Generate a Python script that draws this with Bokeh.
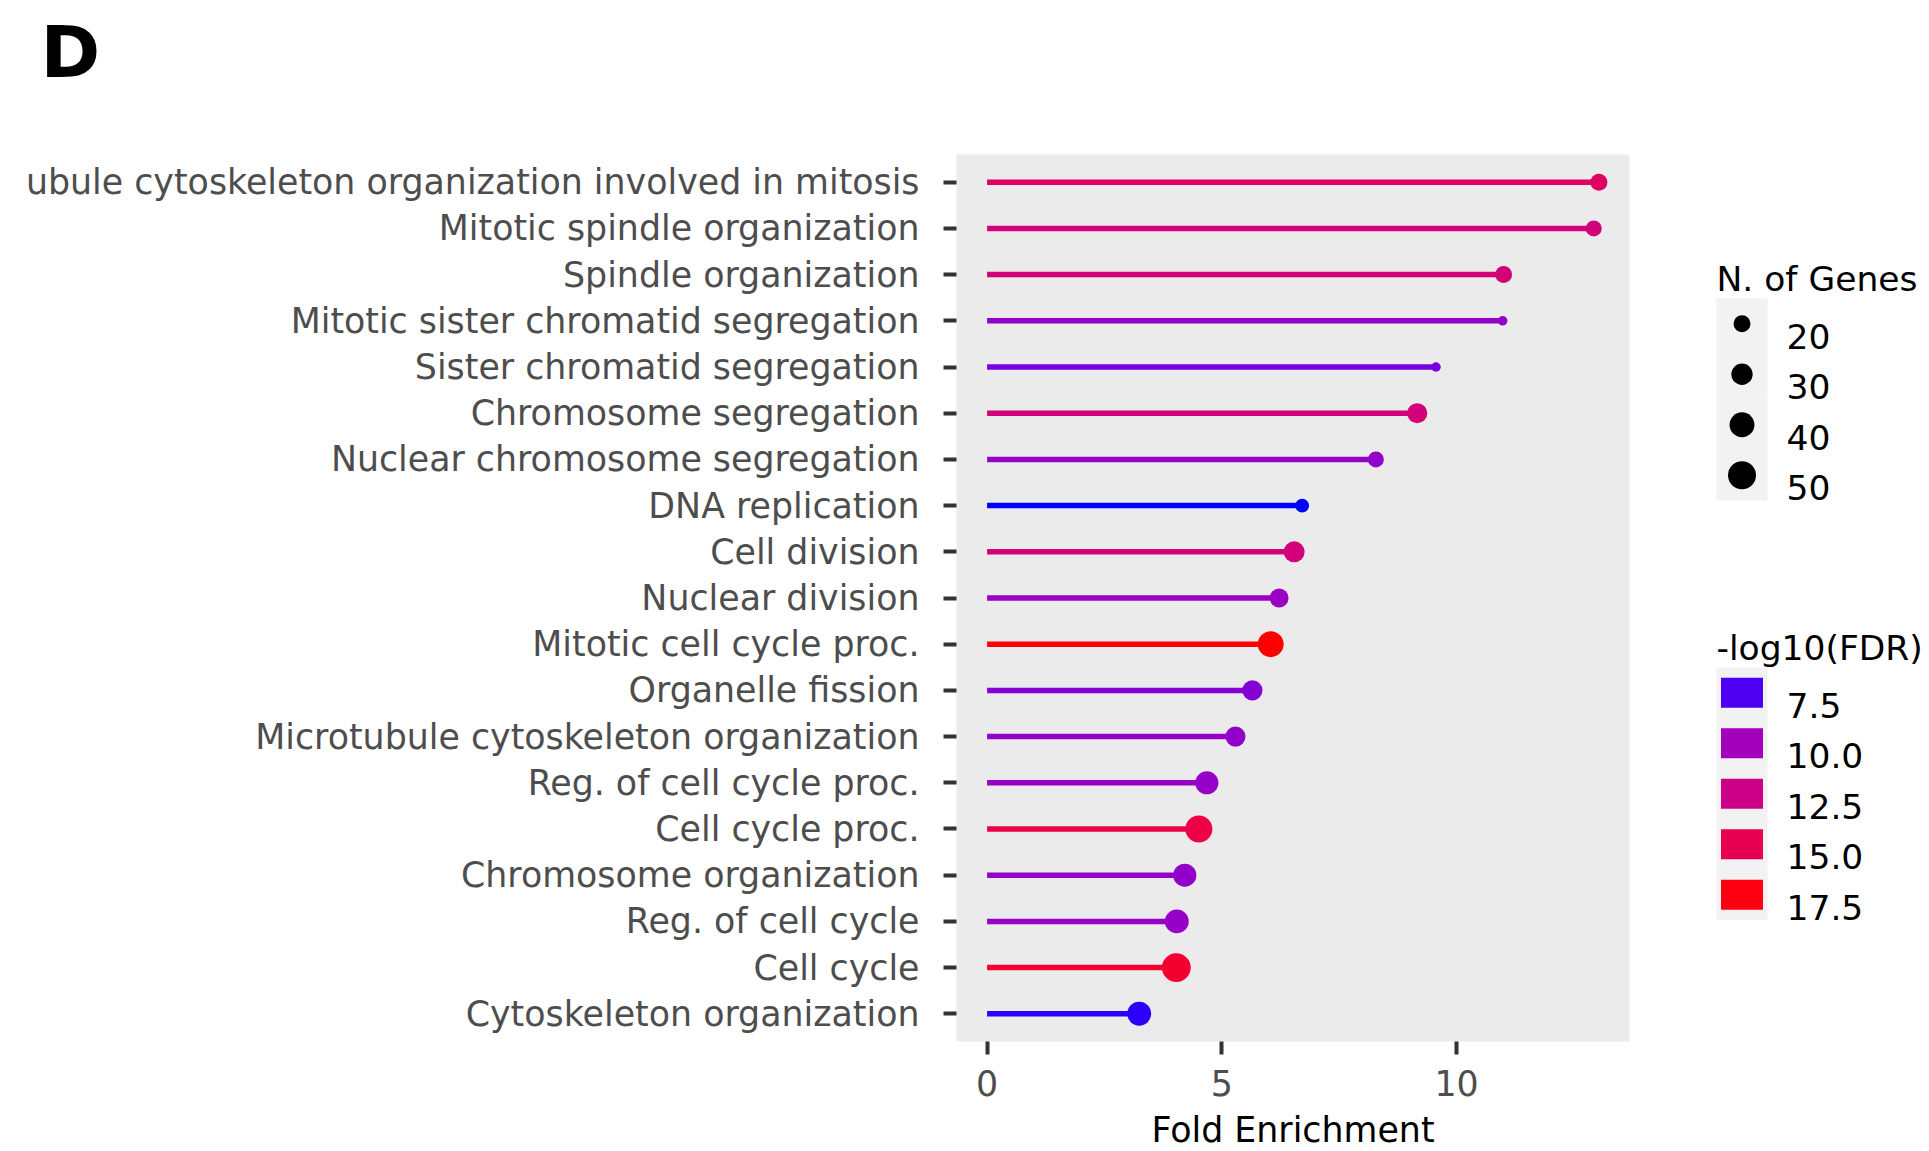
import numpy as np
from bokeh.plotting import figure
from bokeh.models import Range1d, FixedTicker, ColumnDataSource, Spacer
from bokeh.layouts import row, column
from bokeh.core.properties import value
from bokeh.embed import file_html
from bokeh.resources import INLINE

# ---------------- data (top row first) ----------------
terms = [
    "Microtubule cytoskeleton organization involved in mitosis",
    "Mitotic spindle organization",
    "Spindle organization",
    "Mitotic sister chromatid segregation",
    "Sister chromatid segregation",
    "Chromosome segregation",
    "Nuclear chromosome segregation",
    "DNA replication",
    "Cell division",
    "Nuclear division",
    "Mitotic cell cycle proc.",
    "Organelle fission",
    "Microtubule cytoskeleton organization",
    "Reg. of cell cycle proc.",
    "Cell cycle proc.",
    "Chromosome organization",
    "Reg. of cell cycle",
    "Cell cycle",
    "Cytoskeleton organization",
]
fold_enrichment = [13.03, 12.92, 11.0, 10.98, 9.56, 9.16, 8.28, 6.71, 6.54, 6.22,
                   6.04, 5.65, 5.29, 4.68, 4.51, 4.21, 4.04, 4.03, 3.24]
n_genes = [20, 18, 20, 8, 8, 27, 18, 14, 29, 24, 43, 27, 27, 35, 47, 35, 37, 53, 37]
neg_log10_fdr = [14.3, 13.0, 13.2, 9.3, 8.4, 13.1, 9.3, 6.91, 13.1, 9.6,
                 17.83, 8.8, 9.3, 9.5, 15.6, 9.3, 9.5, 16.5, 7.1]

size_breaks = [20, 30, 40, 50]
fdr_breaks = [7.5, 10.0, 12.5, 15.0, 17.5]
x_ticks = [0, 5, 10]
panel_tag = "D"

FONT = "DejaVu Sans"
FS = "34.8px"

# ---------------- colour scale: blue -> red in Lab ----------------
WHITE = (0.95047, 1.0, 1.08883)


def _to_lin(c):
    c = c / 255.0
    return c / 12.92 if c <= 0.04045 else ((c + 0.055) / 1.055) ** 2.4


def _from_lin(c):
    c = max(0.0, min(1.0, c))
    v = 12.92 * c if c <= 0.0031308 else 1.055 * c ** (1 / 2.4) - 0.055
    return int(round(max(0.0, min(1.0, v)) * 255))


def _f(t):
    d = 6 / 29
    return t ** (1 / 3) if t > d ** 3 else t / (3 * d * d) + 4 / 29


def _finv(t):
    d = 6 / 29
    return t ** 3 if t > d else 3 * d * d * (t - 4 / 29)


def hex_to_lab(h):
    r, g, b = [_to_lin(int(h[i:i + 2], 16)) for i in (1, 3, 5)]
    X = 0.4124564 * r + 0.3575761 * g + 0.1804375 * b
    Y = 0.2126729 * r + 0.7151522 * g + 0.0721750 * b
    Z = 0.0193339 * r + 0.1191920 * g + 0.9503041 * b
    fx, fy, fz = _f(X / WHITE[0]), _f(Y / WHITE[1]), _f(Z / WHITE[2])
    return (116 * fy - 16, 500 * (fx - fy), 200 * (fy - fz))


def lab_to_hex(L, a, b):
    fy = (L + 16) / 116
    fx = fy + a / 500
    fz = fy - b / 200
    X, Y, Z = WHITE[0] * _finv(fx), WHITE[1] * _finv(fy), WHITE[2] * _finv(fz)
    r = 3.2404542 * X - 1.5371385 * Y - 0.4985314 * Z
    g = -0.9692660 * X + 1.8760108 * Y + 0.0415560 * Z
    bb = 0.0556434 * X - 0.2040259 * Y + 1.0572252 * Z
    return "#%02x%02x%02x" % tuple(_from_lin(c) for c in (r, g, bb))


LAB_LO = hex_to_lab("#0000ff")
LAB_HI = hex_to_lab("#ff0000")
F_LO, F_HI = min(neg_log10_fdr), max(neg_log10_fdr)


def fdr_color(v):
    t = (v - F_LO) / (F_HI - F_LO)
    t = max(0.0, min(1.0, t))
    return lab_to_hex(*[lo + t * (hi - lo) for lo, hi in zip(LAB_LO, LAB_HI)])


def dot_size(n):
    return float(np.sqrt(max(289 + 16.5 * (n - 20), 49)))


# ---------------- geometry (page pixels) ----------------
FRAME_LEFT, FRAME_TOP, FRAME_W, FRAME_H = 956, 154, 673, 887
BORDER_LEFT = 1100
BORDER_RIGHT = 10
BORDER_BOTTOM = 95
CLIP_X = 27          # the reference image is cropped here on the left
TOP_H = 100          # strip holding the panel tag
BORDER_TOP = FRAME_TOP - TOP_H

# ---------------- panel tag strip ----------------
tag = figure(title=None, frame_width=220, frame_height=TOP_H,
             x_range=Range1d(0, 220), y_range=Range1d(TOP_H, 0),
             output_backend="svg", toolbar_location=None, min_border=0,
             x_axis_type=None, y_axis_type=None, outline_line_color=None,
             background_fill_color="white", border_fill_color="white")
tag.grid.visible = False
tag.text(x=[40], y=[51], text=[panel_tag], text_font=value(FONT), text_font_size="72px",
         text_font_style="bold", text_color="black", text_baseline="alphabetic")

# ---------------- main lollipop panel ----------------
n = len(terms)
ypos = [n - 1 - i for i in range(n)]
src = ColumnDataSource(dict(
    y=ypos,
    fold=fold_enrichment,
    size=[dot_size(g) for g in n_genes],
    color=[fdr_color(v) for v in neg_log10_fdr],
    term=terms,
))

span = max(fold_enrichment)
p = figure(
    frame_width=FRAME_W, frame_height=FRAME_H,
    x_range=Range1d(-0.05 * span, span * 1.05),
    y_range=Range1d(-0.6, n - 1 + 0.6),
    output_backend="svg", toolbar_location=None,
    min_border_left=BORDER_LEFT, min_border_top=BORDER_TOP,
    min_border_bottom=BORDER_BOTTOM, min_border_right=BORDER_RIGHT,
    background_fill_color="#EBEBEB", border_fill_color="white", outline_line_color=None,
)
p.grid.visible = False
p.segment(x0=0, y0="y", x1="fold", y1="y", line_width=5.5, line_color="color", source=src)
p.scatter(x="fold", y="y", size="size", fill_color="color", line_color=None, source=src)

p.yaxis.ticker = FixedTicker(ticks=ypos)
p.yaxis.major_label_overrides = {y: t for y, t in zip(ypos, terms)}
p.xaxis.ticker = FixedTicker(ticks=x_ticks)
p.xaxis.axis_label = "Fold Enrichment"

for ax in (p.xaxis[0], p.yaxis[0]):
    ax.axis_line_color = None
    ax.major_tick_line_color = "#333333"
    ax.major_tick_line_width = 4
    ax.major_tick_out = 13
    ax.major_tick_in = 0
    ax.minor_tick_line_color = None
    ax.major_label_text_font = FONT
    ax.major_label_text_font_size = FS
    ax.major_label_text_color = "#4D4D4D"
p.yaxis.major_label_standoff = 24
p.xaxis.major_label_standoff = 15
p.xaxis.axis_label_text_font = FONT
p.xaxis.axis_label_text_font_size = FS
p.xaxis.axis_label_text_font_style = "normal"
p.xaxis.axis_label_text_color = "black"
p.xaxis.axis_label_standoff = 11

p.margin = (0, 0, 0, FRAME_LEFT - BORDER_LEFT - CLIP_X)

# white strip reproducing the cropped left edge of the reference
crop = Spacer(width=CLIP_X, height=1000,
              styles={"background-color": "white", "position": "relative", "z-index": "10"})

# ---------------- legends (data units = page pixels) ----------------
LEG_LEFT = FRAME_LEFT + FRAME_W + BORDER_RIGHT
LEG_W = 1929 - LEG_LEFT
LEG_DY = -13
lg = figure(frame_width=LEG_W, frame_height=FRAME_H,
            x_range=Range1d(LEG_LEFT, LEG_LEFT + LEG_W),
            y_range=Range1d(FRAME_TOP + FRAME_H, FRAME_TOP),
            output_backend="svg", toolbar_location=None,
            min_border_left=0, min_border_right=0,
            min_border_top=BORDER_TOP, min_border_bottom=BORDER_BOTTOM,
            x_axis_type=None, y_axis_type=None, outline_line_color=None,
            background_fill_color="white", border_fill_color="white")
lg.grid.visible = False

KEY_H = 50.5
KEY_X = 1741.5
LAB_X = 1786
TITLE_X = 1716
LFS = "34.5px"

size_top = 311 + LEG_DY
size_y = [size_top + (i + 0.5) * KEY_H for i in range(len(size_breaks))]
lg.rect(x=KEY_X, y=size_y, width=51, height=KEY_H, fill_color="#F2F2F2", line_color=None)
lg.scatter(x=KEY_X, y=size_y, size=[dot_size(b) for b in size_breaks],
           fill_color="black", line_color=None)
lg.text(x=LAB_X, y=[v + 12.6 for v in size_y], text=[str(b) for b in size_breaks],
        text_font=value(FONT), text_font_size=LFS, text_color="black",
        text_baseline="alphabetic")
lg.text(x=[TITLE_X], y=[size_top - 20], text=["N. of Genes"],
        text_font=value(FONT), text_font_size=LFS, text_color="black",
        text_baseline="alphabetic")

col_top = 680 + LEG_DY
col_y = [col_top + (i + 0.5) * KEY_H for i in range(len(fdr_breaks))]
lg.rect(x=KEY_X, y=col_y, width=51, height=KEY_H, fill_color="#F2F2F2", line_color=None)
lg.rect(x=KEY_X, y=col_y, width=42, height=30,
        fill_color=[fdr_color(b) for b in fdr_breaks], line_color=None)
lg.text(x=LAB_X, y=[v + 12.6 for v in col_y], text=["%.1f" % b for b in fdr_breaks],
        text_font=value(FONT), text_font_size=LFS, text_color="black",
        text_baseline="alphabetic")
lg.text(x=[TITLE_X], y=[col_top - 20], text=["-log10(FDR)"],
        text_font=value(FONT), text_font_size=LFS, text_color="black",
        text_baseline="alphabetic")

layout = column(tag, row(crop, p, lg))
open("out.html", "w").write(file_html(layout, INLINE))
